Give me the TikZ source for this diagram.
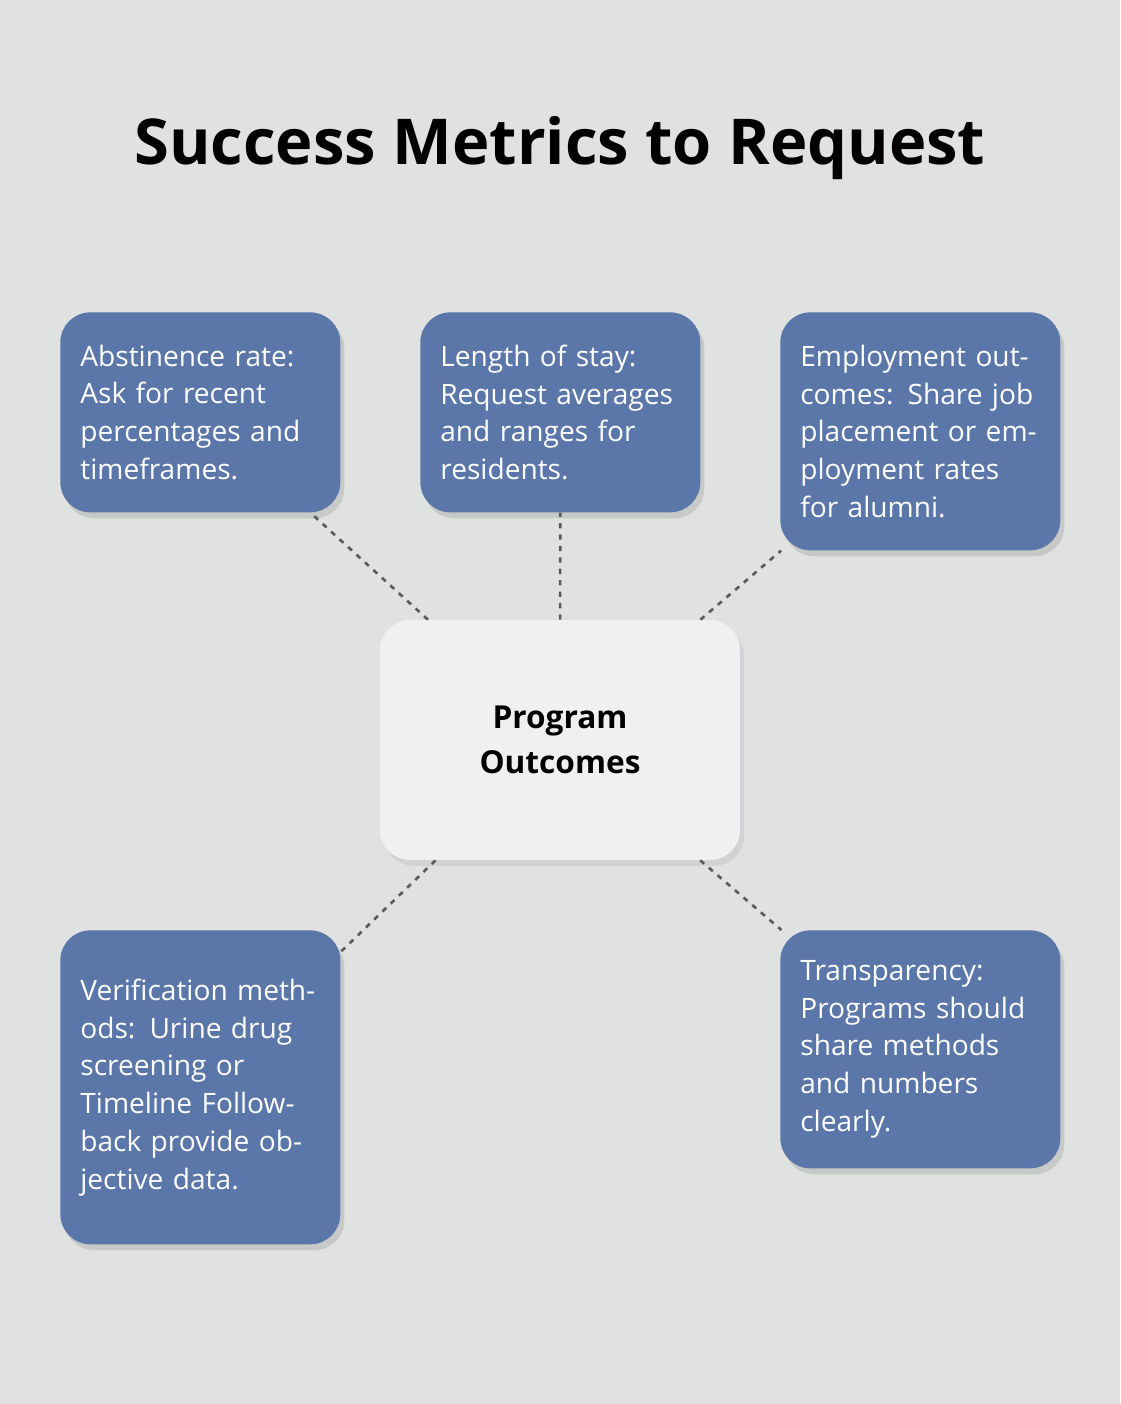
\documentclass[tikz,border=0pt]{standalone}
\usepackage{fontspec}
\setmainfont{Open Sans}
\usetikzlibrary{positioning, shadows}
\definecolor{bgcol}{HTML}{E0E2E1}
\definecolor{boxblue}{HTML}{5B76A8}
\definecolor{ctrfill}{HTML}{EFF0F2}
\definecolor{linkgray}{HTML}{5A5A5A}

\begin{document}
\begin{tikzpicture}[x=0.02cm, y=-0.02cm,
		metric/.style={draw=none, fill=boxblue, rounded corners=0.6cm, text=white,
			text width=4.8cm, inner xsep=0.4cm, inner ysep=0.4cm, align=left,
			anchor=north west, minimum width=5.6cm, font=\fontsize{16}{21.5}\selectfont,
			drop shadow={shadow xshift=0.08cm, shadow yshift=-0.12cm, opacity=0.25}},
		hub/.style={fill=ctrfill, rounded corners=0.6cm, minimum width=7.2cm,
			minimum height=4.8cm, align=center, font=\fontsize{18}{26}\selectfont\bfseries,
			drop shadow={shadow xshift=0.08cm, shadow yshift=-0.12cm, opacity=0.15}},
		link/.style={draw=linkgray, line width=1.5pt, dash pattern=on 3pt off 3.5pt}]
	\fill[bgcol] (0, 0) rectangle (1120, 1404);
	
	\node[font=\fontsize{36}{40}\selectfont\bfseries] (title) at (560, 148) {Success Metrics to Request};
	
	\node[hub] (ctr) at (560, 740) {Program\\Outcomes};
	
	\node[metric, minimum height=4cm] (abst) at (60, 312) {Abstinence rate: Ask for recent percentages and timeframes.};
	\node[metric, minimum height=4cm] (stay) at (420, 312) {Length of stay: Request averages and ranges for residents.};
	\node[metric, minimum height=4.76cm] (empl) at (780, 312) {Employment outcomes: Share job placement or employment rates for alumni.};
	\node[metric, minimum height=6.28cm] (verif) at (60, 930) {Verification methods: Urine drug screening or Timeline Followback provide objective data.};
	\node[metric, minimum height=4.76cm] (transp) at (780, 930) {Transparency: Programs should share methods and numbers clearly.};
	
	% dotted spokes
	\draw[link] (ctr) -- (abst);
	\draw[link] (ctr) -- (stay);
	\draw[link] (ctr) -- (empl);
	\draw[link] (ctr) -- (verif);
	\draw[link] (ctr) -- (transp);
\end{tikzpicture}
\end{document}
